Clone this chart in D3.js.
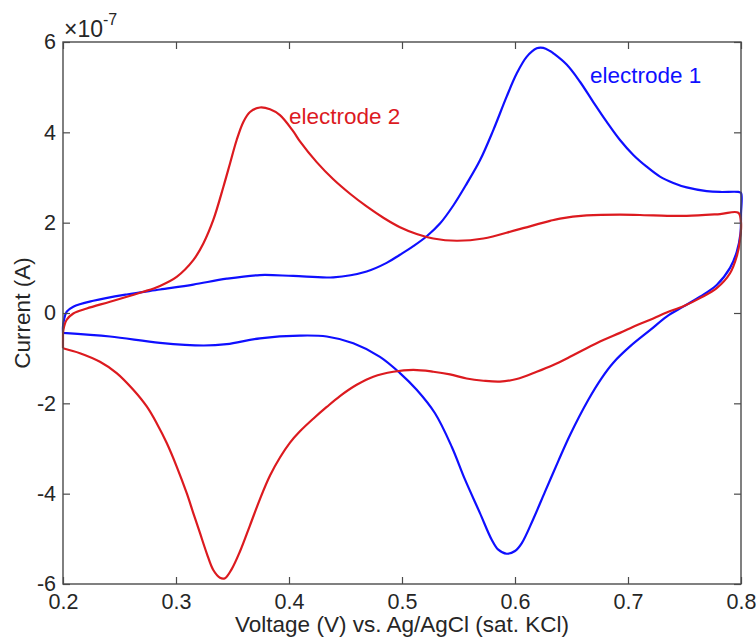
<!DOCTYPE html>
<html>
<head>
<meta charset="utf-8">
<script src="https://cdn.jsdelivr.net/npm/d3@7"></script>
<style>
  html, body { margin: 0; padding: 0; background: #fff; }
  svg { display: block; }
  text { font-family: "Liberation Sans", Arial, Helvetica, sans-serif; fill: #262626; }
</style>
</head>
<body>
<svg id="chart" width="756" height="638"></svg>
<script>
// ---- data (current in units of 1e-7 A); one closed CV loop per electrode ----
const e1Voltage = [0.2,0.2,0.2009,0.2033,0.2091,0.2268,0.2564,0.2858,0.3153,0.3449,0.3743,0.4038,0.4392,0.4687,0.4864,0.4982,0.51,0.5219,0.5336,0.5454,0.5572,0.569,0.5808,0.5926,0.6015,0.6103,0.6192,0.625,0.631,0.6339,0.6457,0.6575,0.6693,0.6812,0.6929,0.7047,0.7165,0.7283,0.7401,0.7519,0.7696,0.7814,0.7976,0.8,0.8,0.7995,0.7962,0.7903,0.7785,0.7637,0.7489,0.7342,0.7195,0.7018,0.687,0.6767,0.6649,0.6487,0.6383,0.6265,0.6162,0.6059,0.6,0.5926,0.5852,0.5794,0.569,0.5558,0.544,0.5292,0.513,0.4982,0.4805,0.4569,0.4334,0.4097,0.3743,0.3449,0.3242,0.2858,0.2416,0.2];
const e1Current = [-0.44,-0.3,-0.15,0.03,0.14,0.27,0.41,0.52,0.63,0.76,0.84,0.82,0.79,0.92,1.11,1.29,1.48,1.70,1.98,2.38,2.86,3.38,4.05,4.79,5.30,5.67,5.86,5.87,5.80,5.75,5.50,5.12,4.67,4.23,3.83,3.50,3.24,3.02,2.88,2.78,2.70,2.68,2.68,2.66,2.2,1.75,1.35,1.0,0.62,0.36,0.14,-0.08,-0.38,-0.74,-1.10,-1.44,-1.92,-2.70,-3.28,-3.96,-4.56,-5.10,-5.27,-5.33,-5.24,-5.02,-4.43,-3.69,-2.96,-2.22,-1.70,-1.33,-0.97,-0.67,-0.52,-0.50,-0.56,-0.69,-0.72,-0.66,-0.52,-0.44];

const e2Voltage = [0.2,0.2,0.2003,0.2033,0.2091,0.221,0.2416,0.2711,0.2858,0.3006,0.3153,0.3242,0.333,0.3419,0.3478,0.3537,0.3596,0.3655,0.3743,0.3832,0.392,0.4038,0.4097,0.4245,0.4392,0.454,0.4687,0.4835,0.4982,0.513,0.5277,0.5484,0.572,0.6015,0.631,0.6398,0.6634,0.6929,0.7224,0.7519,0.7814,0.7976,0.8,0.7991,0.7962,0.7903,0.7785,0.7637,0.749,0.7342,0.7224,0.7077,0.6929,0.6782,0.6634,0.6487,0.6339,0.6192,0.6015,0.5867,0.572,0.5572,0.5425,0.5277,0.51,0.4923,0.4746,0.4599,0.4451,0.4334,0.4215,0.4097,0.4009,0.392,0.3832,0.3743,0.3655,0.3566,0.3493,0.3434,0.3389,0.333,0.3272,0.3212,0.3153,0.3095,0.3006,0.2918,0.2829,0.2741,0.2622,0.2475,0.2327,0.215,0.2];
const e2Current = [-0.78,-0.6,-0.38,-0.15,-0.01,0.10,0.25,0.47,0.60,0.80,1.17,1.54,2.06,2.79,3.31,3.83,4.23,4.45,4.55,4.51,4.38,4.02,3.80,3.34,2.96,2.64,2.36,2.11,1.90,1.75,1.65,1.60,1.65,1.84,2.04,2.09,2.16,2.18,2.16,2.15,2.19,2.22,2.0,1.62,1.25,0.88,0.55,0.33,0.15,0.01,-0.12,-0.27,-0.44,-0.60,-0.78,-0.97,-1.15,-1.30,-1.46,-1.52,-1.50,-1.45,-1.36,-1.30,-1.26,-1.30,-1.41,-1.59,-1.84,-2.08,-2.34,-2.62,-2.87,-3.20,-3.60,-4.12,-4.70,-5.28,-5.67,-5.87,-5.86,-5.69,-5.32,-4.87,-4.43,-3.99,-3.40,-2.88,-2.44,-2.07,-1.70,-1.33,-1.08,-0.89,-0.78];

const xTicks = [0.2,0.3,0.4,0.5,0.6,0.7,0.8];
const yTicks = [-6,-4,-2,0,2,4,6];
const seriesNames = ["electrode 1","electrode 2"];
const seriesColors = ["#0f0fff","#dc1a1f"];

// ---- layout ----
const svg = d3.select("#chart");
const L = 63, R = 741, T = 42, B = 584;
const x = d3.scaleLinear().domain([0.2,0.8]).range([L,R]);
const y = d3.scaleLinear().domain([-6,6]).range([B,T]);
const axisColor = "#4a4a4a";
const FONT = "'Liberation Sans', Arial, Helvetica, sans-serif";

// curves
const series = [
  {name: seriesNames[0], color: seriesColors[0], pts: e1Voltage.map((v,i)=>[v,e1Current[i]])},
  {name: seriesNames[1], color: seriesColors[1], pts: e2Voltage.map((v,i)=>[v,e2Current[i]])}
];
const line = d3.line().x(d=>x(d[0])).y(d=>y(d[1])).curve(d3.curveCatmullRom.alpha(0.5));

svg.append("g").selectAll("path").data(series).join("path")
  .attr("d", d=>line(d.pts))
  .attr("fill","none")
  .attr("stroke", d=>d.color)
  .attr("stroke-width", 2.2)
  .attr("stroke-linejoin","round");

// axes (ticks inward, box)
function styleAxis(g){
  g.select(".domain").remove();
  g.selectAll(".tick line").attr("stroke", axisColor).attr("stroke-width",1.2);
  g.selectAll(".tick text").attr("fill","#262626").style("font-size","21.5px").style("font-family",FONT);
}
const gx = svg.append("g").attr("transform",`translate(0,${B})`)
  .call(d3.axisBottom(x).tickValues(xTicks).tickFormat(d3.format(".1f")).tickSize(-7))
  .call(styleAxis);
gx.selectAll(".tick text").attr("y",25).attr("dy",0);
svg.append("g").attr("transform",`translate(0,${T})`)
  .call(d3.axisTop(x).tickValues(xTicks).tickFormat("").tickSize(-7))
  .call(styleAxis);
svg.append("g").attr("transform",`translate(${L},0)`)
  .call(d3.axisLeft(y).tickValues(yTicks).tickFormat(d=>String(d)).tickSize(-7).tickPadding(7))
  .call(styleAxis);
svg.append("g").attr("transform",`translate(${R},0)`)
  .call(d3.axisRight(y).tickValues(yTicks).tickFormat("").tickSize(-7))
  .call(styleAxis);
svg.append("rect").attr("x",L).attr("y",T).attr("width",R-L).attr("height",B-T)
  .attr("fill","none").attr("stroke",axisColor).attr("stroke-width",1.4);

// exponent label
const ex = svg.append("text").attr("x",L+1).attr("y",T-5).style("font-size","23px");
ex.append("tspan").text("\u00D710");
ex.append("tspan").attr("dy",-12).style("font-size","16px").text("-7");

// axis titles
svg.append("text").attr("x",(L+R)/2).attr("y",632).attr("text-anchor","middle")
  .style("font-size","22.5px").text("Voltage (V) vs. Ag/AgCl (sat. KCl)");
svg.append("text").attr("transform",`translate(30,${(T+B)/2}) rotate(-90)`).attr("text-anchor","middle")
  .style("font-size","22.5px").text("Current (A)");

// annotations
svg.append("text").attr("x",590).attr("y",83).style("font-size","22.5px").style("fill",seriesColors[0]).text(seriesNames[0]);
svg.append("text").attr("x",289).attr("y",124).style("font-size","22.5px").style("fill",seriesColors[1]).text(seriesNames[1]);
</script>
</body>
</html>
